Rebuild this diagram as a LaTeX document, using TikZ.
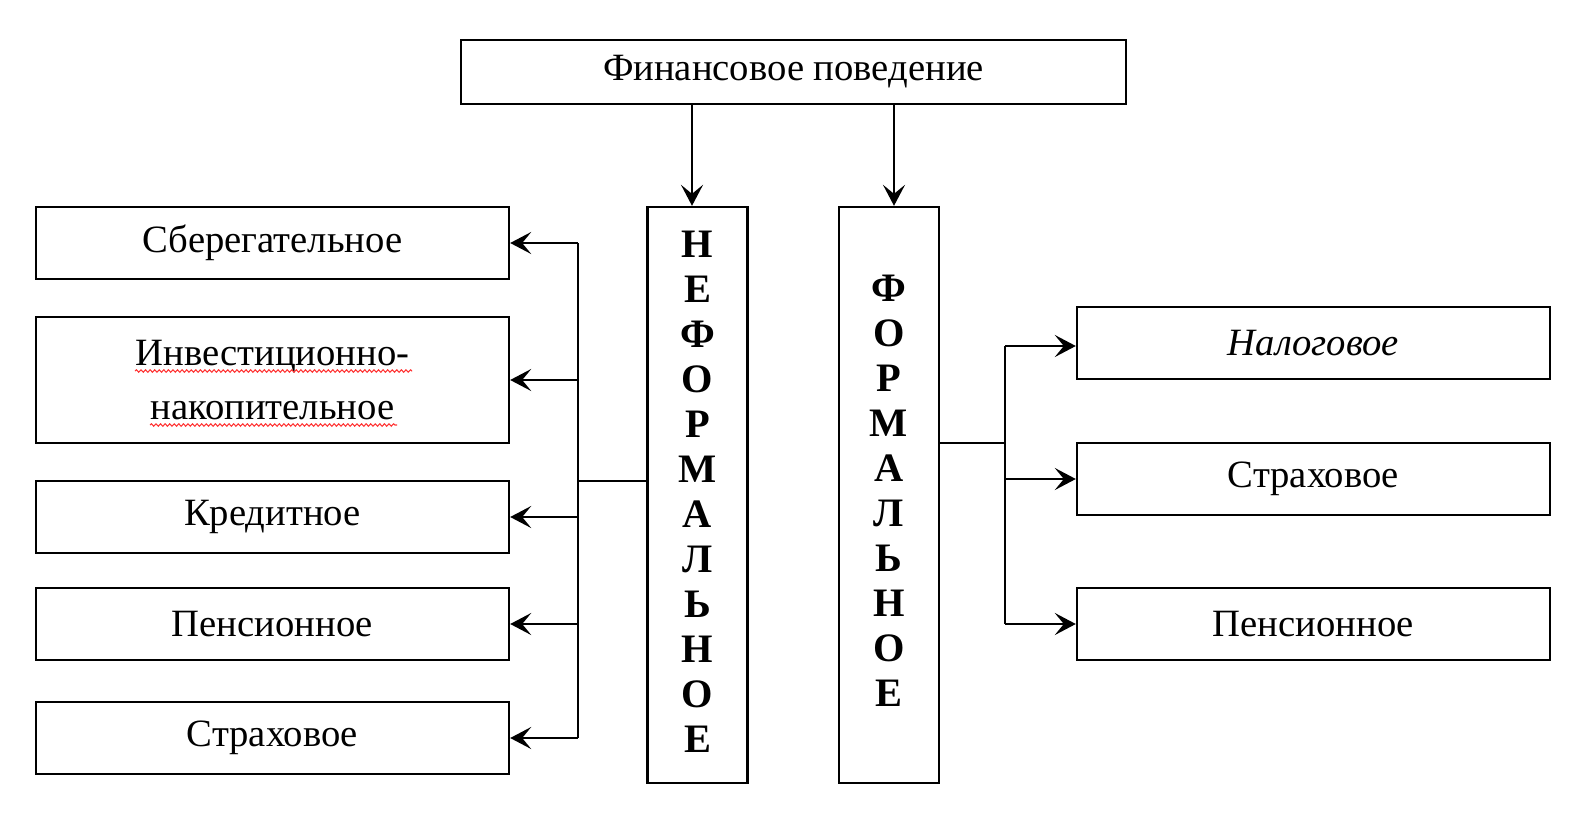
\documentclass[tikz,border=0pt]{standalone}
\usepackage{fontspec}
\setmainfont{Liberation Serif}
\usetikzlibrary{arrows.meta,decorations.pathmorphing}
\begin{document}
\begin{tikzpicture}[x=0.02cm, y=-0.02cm,
        box/.style={draw, line width=1.4pt, inner sep=0pt, align=center,
            font=\fontsize{22}{30.5}\selectfont},
        wide/.style={box, minimum width=9.46cm, minimum height=1.44cm},
        tall/.style={box, minimum width=2cm, minimum height=11.52cm},
        letter/.style={font=\fontsize{23}{26}\selectfont\bfseries, inner sep=0pt},
        arr/.style={line width=1.4pt, -{Stealth[length=4.2mm, width=4.4mm, inset=1.8mm]}},
        bus/.style={line width=1.4pt},
        spell/.style={red!80, line width=0.6pt, decorate,
            decoration={snake, amplitude=0.7pt, segment length=2.6pt}}]
        \useasboundingbox (0,0) rectangle (1574,815);

        \node[box, minimum width=13.3cm, minimum height=1.28cm] (fin) at (793.5,72) {Финансовое поведение};

        \node[tall] (neform) at (697.5,495) {};
        \node[tall] (form) at (889,495) {};
        \foreach \l [count=\i] in {Н,Е,Ф,О,Р,М,А,Л,Ь,Н,О,Е}
            \node[letter] (nf\i) at (697.5, 244 + 45*\i - 45) {\l};
        \foreach \l [count=\i] in {Ф,О,Р,М,А,Л,Ь,Н,О,Е}
            \node[letter] (f\i) at (889, 288 + 45*\i - 45) {\l};

        \node[wide] (sber) at (272.5,243) {Сберегательное};
        \node[wide, minimum height=2.52cm] (invest) at (272.5,380) {Инвестиционно-\\накопительное};
        \node[wide] (kred) at (272.5,517) {Кредитное};
        \node[wide] (pensl) at (272.5,624) {Пенсионное};
        \node[wide] (strl) at (272.5,738) {Страховое};

        \node[wide] (nalog) at (1313.5,343) {\itshape Налоговое};
        \node[wide] (strr) at (1313.5,479) {Страховое};
        \node[wide] (pensr) at (1313.5,624) {Пенсионное};

        \draw[arr] ([xshift=-0.11cm]fin.south -| neform.north) -- ([xshift=-0.11cm]neform.north);
        \draw[arr] ([xshift=0.1cm]fin.south -| form.north) -- ([xshift=0.1cm]form.north);

        \coordinate (lbus) at (578,481);
        \draw[bus] (lbus -| neform.west) -- (lbus);
        \draw[bus] (lbus |- sber.east) -- (lbus |- strl.east);
        \foreach \b in {sber,invest,kred,pensl,strl}
            \draw[arr] (lbus |- \b.east) -- (\b.east);

        \coordinate (rbus) at (1005,443);
        \draw[bus] (rbus -| form.east) -- (rbus);
        \draw[bus] (1005,346) -- (rbus |- pensr.west);
        \draw[arr] (1005,346) -- (nalog.west |- 0,346);
        \foreach \b in {strr,pensr}
            \draw[arr] (rbus |- \b.west) -- (\b.west);

        \draw[spell] (135,371) -- (412,371);
        \draw[spell] (150,425) -- (397,425);
    \end{tikzpicture}
\end{document}
